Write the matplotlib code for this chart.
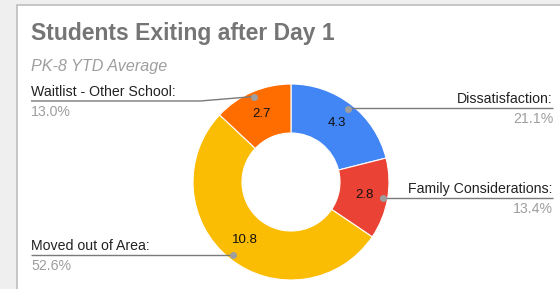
import numpy as np
import matplotlib
matplotlib.use("Agg")
import matplotlib.pyplot as plt
from matplotlib.patches import Rectangle

plt.rcParams["font.family"] = ["Liberation Sans", "DejaVu Sans"]

# data
categories = ["Dissatisfaction", "Family Considerations", "Moved out of Area",
              "Waitlist - Other School"]
values = [4.33, 2.75, 10.80, 2.67]
value_labels = ["4.3", "2.8", "10.8", "2.7"]
pct_labels = ["21.1%", "13.4%", "52.6%", "13.0%"]
colors = ["#4285F4", "#EA4335", "#FBBC04", "#FF6D01"]

W, H = 560, 289
CX, CY, R = 291, H - 182, 98

fig = plt.figure(figsize=(W / 100, H / 100), dpi=100, facecolor="#efefef")
ax = fig.add_axes([0, 0, 1, 1])

wedges, _ = ax.pie(values, colors=colors, startangle=90, counterclock=False,
                   center=(CX, CY), radius=R,
                   wedgeprops=dict(width=R * 0.5, edgecolor="white", linewidth=0.8))
for w in wedges:
    w.set_zorder(3)

# card behind the chart
ax.add_patch(Rectangle((16.5, -20), 700, H - 4.5 + 20, facecolor="white",
                       edgecolor="#bdbdbd", linewidth=1.2, zorder=0))

ax.set_xlim(0, W)
ax.set_ylim(0, H)
ax.set_aspect("auto")
ax.axis("off")

ax.text(31, H - 40, "Students Exiting after Day 1", fontsize=16.5,
        fontweight="bold", color="#757575", va="baseline")
ax.text(31, H - 71, "PK-8 YTD Average", fontsize=11.6, style="italic",
        color="#9e9e9e", va="baseline")

# label layout: side, leader line height (image px), elbow x
sides = ["right", "right", "left", "left"]
line_ys = [108, 198, 255, 101]
elbow_xs = [None, None, None, 200]

for w, vl, name, pct, side, ly, ex in zip(wedges, value_labels, categories,
                                           pct_labels, sides, line_ys, elbow_xs):
    mid = np.deg2rad((w.theta1 + w.theta2) / 2)
    tx = CX + 0.76 * R * np.cos(mid)
    ty = CY + 0.76 * R * np.sin(mid)
    ax.text(tx, ty, vl, fontsize=9.5, color="#111111", ha="center", va="center",
            zorder=5)

    dx = CX + 0.95 * R * np.cos(mid)
    dy = CY + 0.95 * R * np.sin(mid)
    y = H - ly
    edge = 553 if side == "right" else 31
    if ex is None:
        xs, ys = [dx, edge], [y, y]
    else:
        xs, ys = [dx, ex, edge], [dy, y, y]
    ax.plot(xs, ys, color="#7a7a7a", linewidth=1, zorder=4, solid_capstyle="butt")
    ax.plot([dx], [dy], "o", color="#9e9e9e", markersize=4, zorder=6)

    ha = "right" if side == "right" else "left"
    ax.text(edge, y + 5, name + ":", fontsize=10.2, color="#222222", ha=ha,
            va="baseline", zorder=5)
    ax.text(edge, y - 15, pct, fontsize=10.2, color="#9e9e9e", ha=ha,
            va="baseline", zorder=5)

fig.savefig("out.png", dpi=100, facecolor=fig.get_facecolor())
